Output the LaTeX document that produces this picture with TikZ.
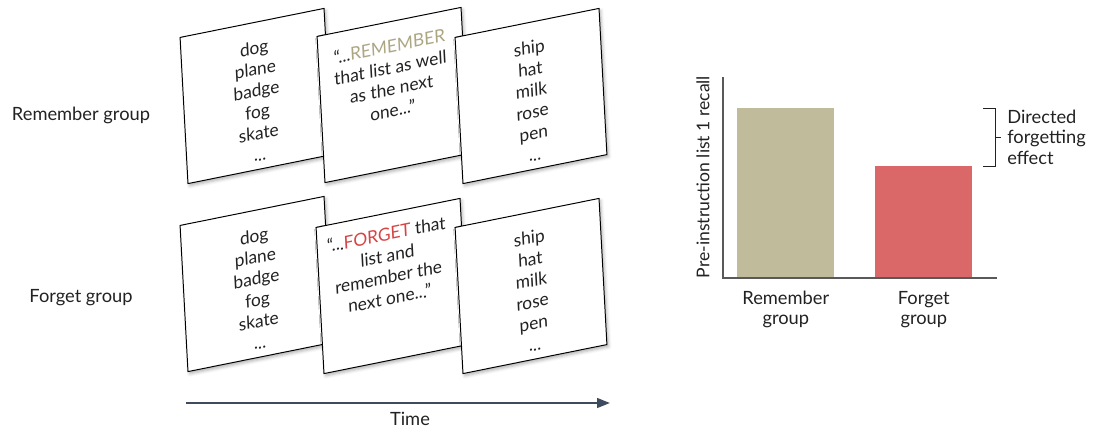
\documentclass[tikz,border=0pt]{standalone}
\usepackage{fontspec}
\setmainfont{Lato}
\usepackage{xcolor}
\usetikzlibrary{arrows.meta, positioning, calc, shadows.blur}

\definecolor{ink}{HTML}{222222}
\definecolor{remtan}{HTML}{C0BB9B}
\definecolor{remword}{HTML}{ACA683}
\definecolor{forgred}{HTML}{DB6868}
\definecolor{forgword}{HTML}{D64545}
\definecolor{timeline}{HTML}{3E4B5E}

\begin{document}
\begin{tikzpicture}[
        x=0.025cm, y=-0.025cm,
        card/.style={rectangle, draw=black, line width=0.7pt, fill=white, inner sep=0pt,
            minimum width=3.67cm, minimum height=3.62cm, rotate=11.4, xslant=0.146,
            blur shadow={shadow xshift=1.2pt, shadow yshift=-1.6pt, shadow blur radius=2.2pt, shadow opacity=30}},
        words/.style={align=center, inner sep=0pt, text=ink, font=\fontsize{12.5}{15}\selectfont, rotate=11.4, xslant=0.146},
        lbl/.style={align=center, text=ink, inner sep=0pt, font=\fontsize{13}{14.5}\selectfont},
        bar/.style={rectangle, inner sep=0pt, minimum width=2.425cm, anchor=south west},
        axis/.style={draw=black!65, line width=1.1pt},
    ]
    \useasboundingbox (0,0) rectangle (1094,429);

    % remember group
    \node[lbl] (remrow) at (81,115) {Remember group};
    \node[card] (r1) at (256,96) {};
    \node[words] at ([shift={(1,5)}]r1.center) {dog\\plane\\badge\\fog\\skate\\...};
    \node[card] (r2) at (393,95) {};
    \node[words] at ([shift={(-2,-17)}]r2.center) {“...\textcolor{remword}{REMEMBER}\\that list as well\\as the next\\one...”};
    \node[card] (r3) at (531,96) {};
    \node[words] at ([shift={(1,5)}]r3.center) {ship\\hat\\milk\\rose\\pen\\...};

    % forget group
    \node[lbl] (forrow) at (81,298) {Forget group};
    \node[card] (f1) at (256,284) {};
    \node[words] at ([shift={(1,5)}]f1.center) {dog\\plane\\badge\\fog\\skate\\...};
    \node[card] (f2) at (392,286) {};
    \node[words] at ([shift={(-4,-20)}]f2.center) {“...\textcolor{forgword}{FORGET} that\\list and\\remember the\\next one...”};
    \node[card] (f3) at (531,286) {};
    \node[words] at ([shift={(1,5)}]f3.center) {ship\\hat\\milk\\rose\\pen\\...};

    % time axis
    \coordinate (t0) at (186,403);
    \coordinate (t1) at (610,403);
    \draw[timeline, line width=1.4pt, -{Triangle[length=3.2mm, width=2.4mm]}] (t0) -- (t1);
    \node[lbl] (time) at (410,419) {Time};

    % bar chart
    \coordinate (origin) at (723,278);
    \coordinate (ytop) at (723,77);
    \coordinate (xend) at (997,278);
    \node[bar, fill=remtan, minimum height=4.25cm] (b1) at (737,278) {};
    \node[bar, fill=forgred, minimum height=2.8cm] (b2) at (875,278) {};
    \draw[axis] (ytop) -- (origin) -- (xend);
    \node[lbl, font=\fontsize{12.5}{14}\selectfont, rotate=90] (ylab) at (703,177) {Pre-instruction list 1 recall};
    \node[lbl, anchor=north] (x1) at ([yshift=-3.2mm]b1.south) {Remember\\group};
    \node[lbl, anchor=north] (x2) at ([yshift=-3.2mm]b2.south) {Forget\\group};

    % bracket
    \coordinate (k1) at (983,108);
    \coordinate (k2) at (983,166);
    \draw[ink, line width=0.7pt] (k1) -- ++(12,0) |- (k2);
    \draw[ink, line width=0.7pt] ($(k1)!0.5!(k2)+(12,0)$) -- ++(6,0) coordinate (ktip);
    \node[lbl, anchor=west, align=left, font=\fontsize{13}{14.6}\selectfont] (effect) at ([xshift=1.5mm]ktip) {Directed\\forgetting\\effect};
\end{tikzpicture}
\end{document}
